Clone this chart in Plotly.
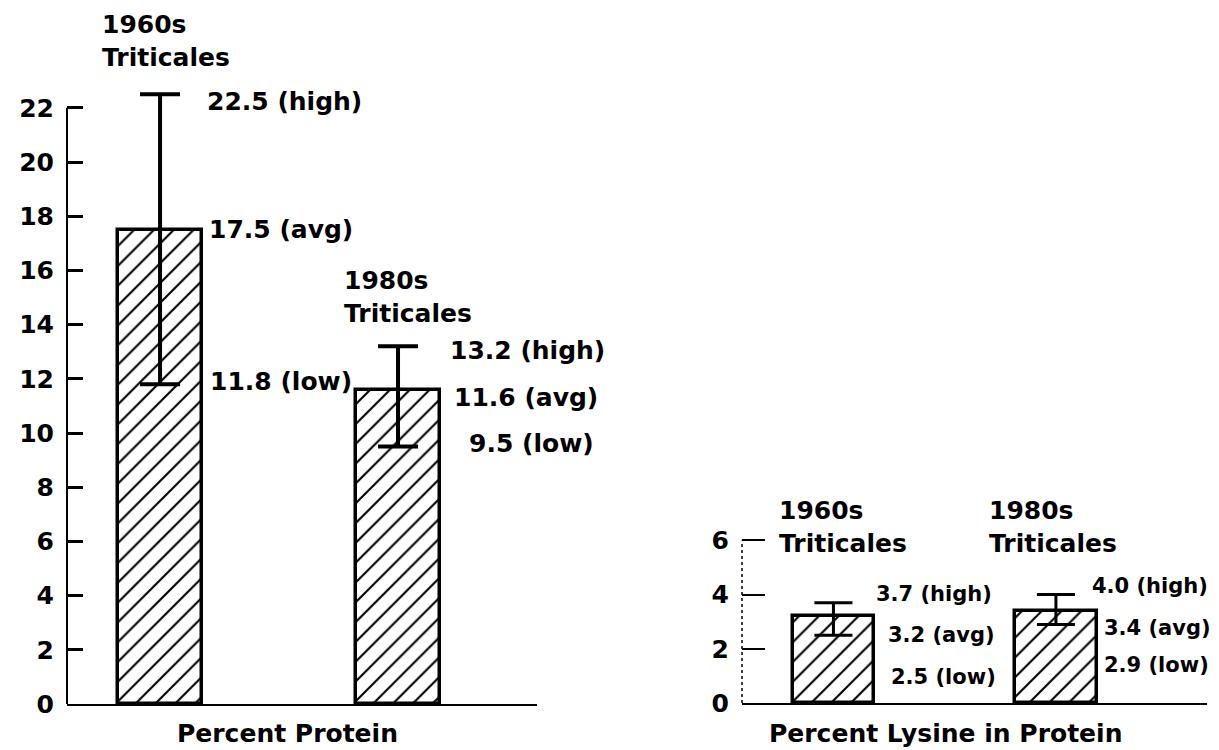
import plotly.graph_objects as go

# Triticale grain quality: 1960s vs 1980s lines
categories = ["1960s Triticales", "1980s Triticales"]
category_labels = ["1960s<br>Triticales", "1980s<br>Triticales"]

protein_avg = [17.5, 11.6]
protein_high = [22.5, 13.2]
protein_low = [11.8, 9.5]

lysine_avg = [3.2, 3.4]
lysine_high = [3.7, 4.0]
lysine_low = [2.5, 2.9]

protein_ticks = [0, 2, 4, 6, 8, 10, 12, 14, 16, 18, 20, 22]
lysine_ticks = [0, 2, 4, 6]

FONT = "DejaVu Sans"
W, H = 1219, 750


def px_x(p):
    return p / W


def px_y(p):
    return (H - p) / H


def font(size):
    return dict(family=FONT, size=size, color="black", weight="bold")


fig = go.Figure()

hatch = dict(shape="/", fgcolor="black", bgcolor="white", fgopacity=1,
             size=14, solidity=0.15)

fig.add_trace(go.Bar(
    x=categories, y=protein_avg, xaxis="x", yaxis="y",
    width=0.35,
    marker=dict(color="white", line=dict(color="black", width=3.5), pattern=hatch),
    error_y=dict(
        type="data", symmetric=False,
        array=[h - a for h, a in zip(protein_high, protein_avg)],
        arrayminus=[a - l for a, l in zip(protein_avg, protein_low)],
        color="black", thickness=4, width=20,
    ),
    hoverinfo="skip",
))

fig.add_trace(go.Bar(
    x=categories, y=lysine_avg, xaxis="x2", yaxis="y2",
    width=0.365,
    marker=dict(color="white", line=dict(color="black", width=3.5), pattern=hatch),
    error_y=dict(
        type="data", symmetric=False,
        array=[h - a for h, a in zip(lysine_high, lysine_avg)],
        arrayminus=[a - l for a, l in zip(lysine_avg, lysine_low)],
        color="black", thickness=3, width=19,
    ),
    hoverinfo="skip",
))

annotations = []


def label(xref, yref, x, y, text, xshift, yshift, size, yanchor="middle"):
    annotations.append(dict(
        xref=xref, yref=yref, x=x, y=y, text=text, showarrow=False,
        xanchor="left", yanchor=yanchor, align="left",
        xshift=xshift, yshift=yshift, font=font(size),
    ))


# Protein panel labels
p_shift = [
    dict(high=(45, -7), avg=(47, 0), low=(48, 3), head=(-60, 20)),
    dict(high=(50, -4), avg=(54, -8), low=(69, 3), head=(-56, 16)),
]
for i, cat in enumerate(categories):
    s = p_shift[i]
    label("x", "y", cat, protein_high[i], f"{protein_high[i]:.1f} (high)", *s["high"], 25)
    label("x", "y", cat, protein_avg[i], f"{protein_avg[i]:.1f} (avg)", *s["avg"], 25)
    label("x", "y", cat, protein_low[i], f"{protein_low[i]:.1f} (low)", *s["low"], 25)
    label("x", "y", cat, protein_high[i], category_labels[i], *s["head"], 25, yanchor="bottom")

# Lysine panel labels
l_shift = [
    dict(high=(41, 9), avg=(53, -19), low=(56, -42), head=(-56, 43)),
    dict(high=(34, 9), avg=(46, -17), low=(46, -41), head=(-69, 35)),
]
for i, cat in enumerate(categories):
    s = l_shift[i]
    label("x2", "y2", cat, lysine_high[i], f"{lysine_high[i]:.1f} (high)", *s["high"], 21)
    label("x2", "y2", cat, lysine_avg[i], f"{lysine_avg[i]:.1f} (avg)", *s["avg"], 21)
    label("x2", "y2", cat, lysine_low[i], f"{lysine_low[i]:.1f} (low)", *s["low"], 21)
    label("x2", "y2", cat, lysine_high[i], category_labels[i], *s["head"], 25, yanchor="bottom")

# Panel captions
for text, cx in [("Percent Protein", 287), ("Percent Lysine in Protein", 945)]:
    annotations.append(dict(
        xref="paper", yref="paper", x=px_x(cx), y=px_y(733), text=text,
        showarrow=False, xanchor="center", yanchor="middle", font=font(25),
    ))

scale = 27.1  # pixels per percentage point on both value axes

shapes = [
    dict(type="line", xref="x domain", yref="y", x0=0, x1=0,
         y0=protein_ticks[0], y1=protein_ticks[-1],
         line=dict(color="black", width=2)),
    dict(type="line", xref="x2 domain", yref="y2", x0=0, x1=0,
         y0=lysine_ticks[0], y1=lysine_ticks[-1],
         line=dict(color="black", width=1.5, dash="dot")),
]

axis_common = dict(showgrid=False, zeroline=False, fixedrange=True, automargin=False)

fig.update_layout(
    width=W, height=H, autosize=False,
    margin=dict(l=0, r=0, t=0, b=0, pad=0),
    paper_bgcolor="white", plot_bgcolor="white",
    showlegend=False, bargap=0,
    annotations=annotations, shapes=shapes,
    xaxis=dict(
        domain=[px_x(67), px_x(537)], range=[-0.391, 1.584],
        type="category", showticklabels=False, ticks="",
        showline=True, linecolor="black", linewidth=2, anchor="y",
        **axis_common,
    ),
    yaxis=dict(
        domain=[px_y(704), 1], range=[0, 704 / scale],
        tickvals=protein_ticks, ticktext=[str(t) for t in protein_ticks],
        ticks="inside", ticklen=16, tickwidth=2.5, tickcolor="black",
        ticklabelstandoff=12, showline=False, anchor="x",
        tickfont=font(25),
        **axis_common,
    ),
    xaxis2=dict(
        domain=[px_x(742), px_x(1207)], range=[-0.411, 1.679],
        type="category", showticklabels=False, ticks="",
        showline=True, linecolor="black", linewidth=2, anchor="y2",
        **axis_common,
    ),
    yaxis2=dict(
        domain=[px_y(703), 1], range=[0, 703 / scale],
        tickvals=lysine_ticks, ticktext=[str(t) for t in lysine_ticks],
        ticks="inside", ticklen=23, tickwidth=2, tickcolor="black",
        ticklabelstandoff=12, showline=False, anchor="x2",
        tickfont=font(25),
        **axis_common,
    ),
)

fig.write_html("out.html")
